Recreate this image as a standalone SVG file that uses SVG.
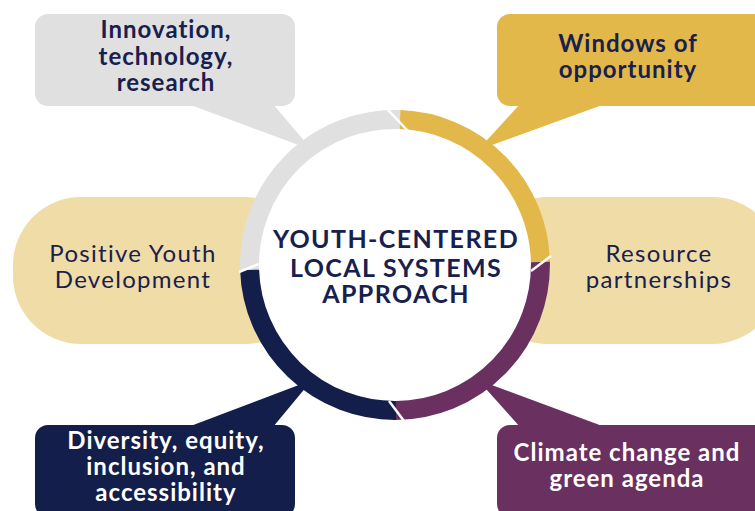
<svg xmlns="http://www.w3.org/2000/svg" width="755" height="511" viewBox="0 0 755 511">
<style>
.t{font-family:Lato,"Noto Sans","Liberation Sans",sans-serif;text-anchor:middle;font-size:24px;letter-spacing:1px}
.b{font-weight:700}
.r{letter-spacing:1.3px}
.c{font-size:25px;letter-spacing:1.4px}
.n{fill:#18204d}
.w{fill:#ffffff}
.gap{stroke:#ffffff;stroke-width:2.5;fill:none}
</style>
<rect width="755" height="511" fill="#ffffff"/>
<g id="node-innovation">
<path d="M188,104 L273,104 L312,150 Z" fill="#e0e0e0"/>
<rect x="35" y="14" width="260" height="92" rx="13" fill="#e0e0e0"/>
<text class="t b n"><tspan x="166" y="38">Innovation,</tspan><tspan x="166" y="65">technology,</tspan><tspan x="166" y="91">research</tspan></text>
</g>
<g id="node-windows">
<path d="M520,104 L605,104 L478,150 Z" fill="#e2b84a"/>
<rect x="497" y="14" width="275" height="92" rx="13" fill="#e2b84a"/>
<text class="t b n"><tspan x="628" y="52">Windows of</tspan><tspan x="628" y="78">opportunity</tspan></text>
</g>
<g id="node-pyd">
<rect x="13" y="197" width="300" height="147" rx="68" fill="#f0dca6"/>
<text class="t r n"><tspan x="133" y="262">Positive Youth</tspan><tspan x="133" y="288">Development</tspan></text>
</g>
<g id="node-resource">
<rect x="480" y="197" width="300" height="147" rx="68" fill="#f0dca6"/>
<text class="t r n"><tspan x="659" y="262">Resource</tspan><tspan x="659" y="288">partnerships</tspan></text>
</g>
<g id="node-deia">
<path d="M188,427 L273,427 L312,380 Z" fill="#141e4a"/>
<rect x="35" y="425" width="260" height="92" rx="13" fill="#141e4a"/>
<text class="t b w"><tspan x="166" y="449">Diversity, equity,</tspan><tspan x="166" y="475">inclusion, and</tspan><tspan x="166" y="501">accessibility</tspan></text>
</g>
<g id="node-climate">
<path d="M520,427 L605,427 L478,380 Z" fill="#6a3060"/>
<rect x="497" y="425" width="275" height="92" rx="13" fill="#6a3060"/>
<text class="t b w"><tspan x="627" y="461">Climate change and</tspan><tspan x="627" y="487">green agenda</tspan></text>
</g>
<g id="connectors">
<circle cx="395" cy="265" r="137" fill="#ffffff"/>
<path d="M249.6,270 A145.5,145.5 0 0 1 400,119.6" stroke="#e0e0e0" stroke-width="19" fill="none"/>
<path d="M400,119.6 A145.5,145.5 0 0 1 540.4,262" stroke="#e2b84a" stroke-width="19" fill="none"/>
<path d="M540.4,262 A145.5,145.5 0 0 1 396,410.5" stroke="#6a3060" stroke-width="19" fill="none"/>
<path d="M396,410.5 A145.5,145.5 0 0 1 249.6,270" stroke="#141e4a" stroke-width="19" fill="none"/>
<line class="gap" x1="388" y1="110" x2="408" y2="131"/>
<line class="gap" x1="531" y1="271" x2="551" y2="256"/>
<line class="gap" x1="389" y1="401" x2="404" y2="421"/>
<line class="gap" x1="239" y1="272" x2="259" y2="264"/>
</g>
<g id="center">
<text class="t b c n"><tspan x="396" y="248">YOUTH-CENTERED</tspan><tspan x="396" y="277">LOCAL SYSTEMS</tspan><tspan x="396" y="303">APPROACH</tspan></text>
</g>
</svg>
